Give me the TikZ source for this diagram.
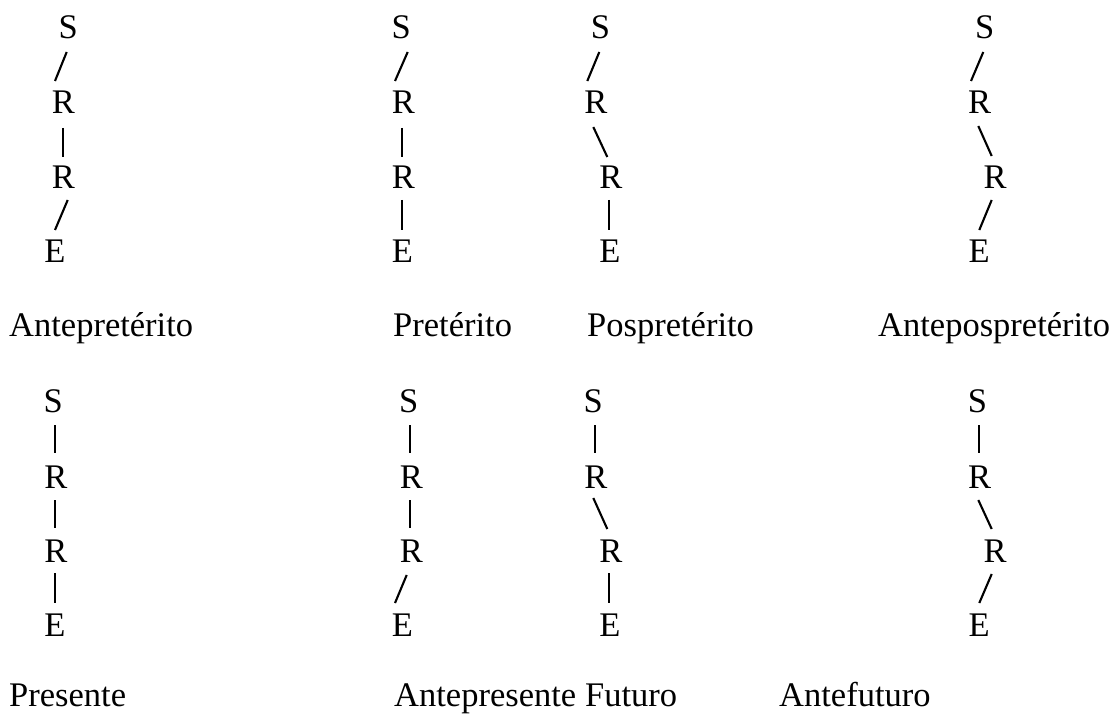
\documentclass[tikz,border=0pt]{standalone}
\usepackage{fontspec}
\setmainfont{Liberation Serif}
\begin{document}
\begin{tikzpicture}[x=1pt,y=-1pt,
  letter/.style={inner sep=0pt, font=\fontsize{34.5}{40}\selectfont},
  tense/.style={inner sep=0pt, anchor=base west, font=\fontsize{34.5}{40}\selectfont},
  link/.style={line width=2.1pt, line cap=butt}]
\useasboundingbox (0,0) rectangle (1113,714);

% ---------- top row ----------
% Antepreterito
\node[letter] (a1S) at (68.3,27)  {S};
\node[letter] (a1R) at (63.3,102) {R};
\node[letter] (a1Q) at (63.3,177) {R};
\node[letter] (a1E) at (55,251)   {E};
\draw[link] ([shift={(-1.6,25)}]a1S.center) -- ([shift={(-8.3,-21)}]a1R.center);
\draw[link] ([shift={(-0.6,26)}]a1R.center) -- ([shift={(-0.6,-20)}]a1Q.center);
\draw[link] ([shift={(4.4,23)}]a1Q.center) -- ([shift={(0,-21)}]a1E.center);
% Preterito
\node[letter] (b1S) at (401.2,27)  {S};
\node[letter] (b1R) at (403.3,102) {R};
\node[letter] (b1Q) at (403.3,177) {R};
\node[letter] (b1E) at (402.5,251) {E};
\draw[link] ([shift={(6.5,25)}]b1S.center) -- ([shift={(-8.3,-21)}]b1R.center);
\draw[link] ([shift={(-1.6,26)}]b1R.center) -- ([shift={(-1.6,-20)}]b1Q.center);
\draw[link] ([shift={(-1.6,23)}]b1Q.center) -- ([shift={(-0.8,-21)}]b1E.center);
% Pospreterito
\node[letter] (c1S) at (600.5,27)  {S};
\node[letter] (c1R) at (595.8,102) {R};
\node[letter] (c1Q) at (610.8,177) {R};
\node[letter] (c1E) at (610,251)   {E};
\draw[link] ([shift={(-1.2,25)}]c1S.center) -- ([shift={(-8.5,-21)}]c1R.center);
\draw[link] ([shift={(-2.5,25)}]c1R.center) -- ([shift={(-3.5,-20)}]c1Q.center);
\draw[link] ([shift={(-1.5,23)}]c1Q.center) -- ([shift={(-0.7,-21)}]c1E.center);
% Antepospreterito
\node[letter] (d1S) at (984.7,27)  {S};
\node[letter] (d1R) at (979.7,102) {R};
\node[letter] (d1Q) at (995,177)   {R};
\node[letter] (d1E) at (979.2,251) {E};
\draw[link] ([shift={(-1.4,25)}]d1S.center) -- ([shift={(-8.7,-21)}]d1R.center);
\draw[link] ([shift={(-1.4,24)}]d1R.center) -- ([shift={(-3.3,-21)}]d1Q.center);
\draw[link] ([shift={(-3.3,23)}]d1Q.center) -- ([shift={(0.1,-21)}]d1E.center);

\node[tense] (t1a) at (9,336)   {Antepretérito};
\node[tense] (t1b) at (393,336) {Pretérito};
\node[tense] (t1c) at (587,336) {Pospretérito};
\node[tense] (t1d) at (878,336) {Antepospretérito};

% ---------- bottom row ----------
% Presente
\node[letter] (a2S) at (53.3,401) {S};
\node[letter] (a2R) at (56,477)   {R};
\node[letter] (a2Q) at (56,551)   {R};
\node[letter] (a2E) at (55,625)   {E};
\draw[link] ([shift={(1.7,24)}]a2S.center) -- ([shift={(-1,-24)}]a2R.center);
\draw[link] ([shift={(-1,23)}]a2R.center) -- ([shift={(-1,-23)}]a2Q.center);
\draw[link] ([shift={(-1,22)}]a2Q.center) -- ([shift={(0,-22)}]a2E.center);
% Antepresente
\node[letter] (b2S) at (408.7,401) {S};
\node[letter] (b2R) at (411.3,477) {R};
\node[letter] (b2Q) at (411.3,551) {R};
\node[letter] (b2E) at (402.5,625) {E};
\draw[link] ([shift={(1.3,24)}]b2S.center) -- ([shift={(-1.3,-24)}]b2R.center);
\draw[link] ([shift={(-1.3,23)}]b2R.center) -- ([shift={(-1.3,-23)}]b2Q.center);
\draw[link] ([shift={(-4.6,24)}]b2Q.center) -- ([shift={(-7.5,-22)}]b2E.center);
% Futuro
\node[letter] (c2S) at (593.3,401) {S};
\node[letter] (c2R) at (595.8,477) {R};
\node[letter] (c2Q) at (610.8,551) {R};
\node[letter] (c2E) at (610,625)   {E};
\draw[link] ([shift={(1.7,24)}]c2S.center) -- ([shift={(-0.8,-24)}]c2R.center);
\draw[link] ([shift={(-2.5,21)}]c2R.center) -- ([shift={(-3.5,-22)}]c2Q.center);
\draw[link] ([shift={(-1.5,22)}]c2Q.center) -- ([shift={(-0.7,-22)}]c2E.center);
% Antefuturo
\node[letter] (d2S) at (977.5,401) {S};
\node[letter] (d2R) at (979.7,477) {R};
\node[letter] (d2Q) at (995,551)   {R};
\node[letter] (d2E) at (979.2,625) {E};
\draw[link] ([shift={(1.5,24)}]d2S.center) -- ([shift={(-0.7,-24)}]d2R.center);
\draw[link] ([shift={(-1.4,23)}]d2R.center) -- ([shift={(-3.3,-22)}]d2Q.center);
\draw[link] ([shift={(-3.3,23)}]d2Q.center) -- ([shift={(0.1,-22)}]d2E.center);

\node[tense] (t2a) at (9,706.5)   {Presente};
\node[tense] (t2b) at (394,706.5) {Antepresente};
\node[tense] (t2c) at (585,706.5) {Futuro};
\node[tense] (t2d) at (779,706.5) {Antefuturo};
\end{tikzpicture}
\end{document}
